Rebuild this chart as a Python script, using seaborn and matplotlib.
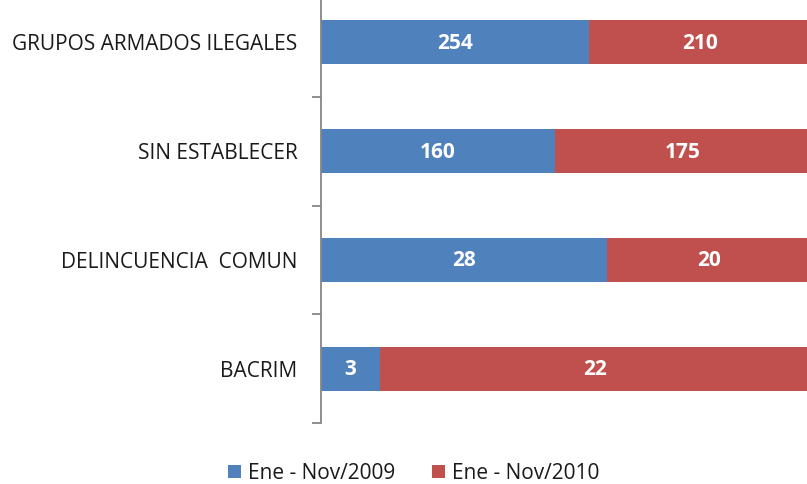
import matplotlib
matplotlib.use("Agg")
import matplotlib.pyplot as plt
from matplotlib.patches import Patch
import seaborn as sns
import pandas as pd
import numpy as np

categories = ["GRUPOS ARMADOS ILEGALES", "SIN ESTABLECER", "DELINCUENCIA  COMUN", "BACRIM"]
values_2009 = [254, 160, 28, 3]
values_2010 = [210, 175, 20, 22]
series_names = ["Ene - Nov/2009", "Ene - Nov/2010"]

blue = "#4F81BD"
red = "#C0504D"

sns.set_theme(style="white")
plt.rcParams["font.family"] = ["Open Sans", "DejaVu Sans"]

v09 = np.array(values_2009, dtype=float)
v10 = np.array(values_2010, dtype=float)
total = v09 + v10
share09 = v09 / total * 100
share10 = v10 / total * 100

df = pd.DataFrame({"cat": categories, "full": share09 + share10, "s09": share09})

fig = plt.figure(figsize=(8.07, 4.84), dpi=100)
ax = fig.add_axes([321 / 807, 61 / 484, 490 / 807, 435 / 484])

sns.barplot(data=df, y="cat", x="full", color=red, orient="y", width=0.405,
            saturation=1, ax=ax, edgecolor="none", linewidth=0)
sns.barplot(data=df, y="cat", x="s09", color=blue, orient="y", width=0.405,
            saturation=1, ax=ax, edgecolor="none", linewidth=0)

for i in range(len(categories)):
    ax.text(share09[i] / 2, i + 0.01, f"{values_2009[i]}", ha="center", va="center",
            color="white", fontsize=15, fontweight="bold")
    ax.text(share09[i] + share10[i] / 2, i + 0.01, f"{values_2010[i]}", ha="center",
            va="center", color="white", fontsize=15, fontweight="bold")

ax.set_xlim(0, 100)
ax.set_ylim(3.5, -0.5)
ax.set_xlabel("")
ax.set_ylabel("")
ax.set_xticks([])
for s in ["top", "right", "bottom"]:
    ax.spines[s].set_visible(False)
ax.spines["left"].set_color("#868686")
ax.spines["left"].set_linewidth(1.3)

ax.set_yticks(np.arange(-0.5, 4.0, 1.0), minor=True)
ax.tick_params(axis="y", which="minor", length=6.5, width=1.3, color="#868686", left=True)
ax.tick_params(axis="y", which="major", length=0, pad=17, labelsize=15, labelcolor="#1a1a1a")

handles = [Patch(facecolor=blue, edgecolor="none"), Patch(facecolor=red, edgecolor="none")]
fig.legend(handles, series_names, loc="center", bbox_to_anchor=(0.513, 0.022), ncol=2,
           frameon=False, fontsize=15, handlelength=0.62, handleheight=0.62,
           handletextpad=0.35, columnspacing=1.75, labelcolor="#1a1a1a")

fig.savefig("out.png", dpi=100)
